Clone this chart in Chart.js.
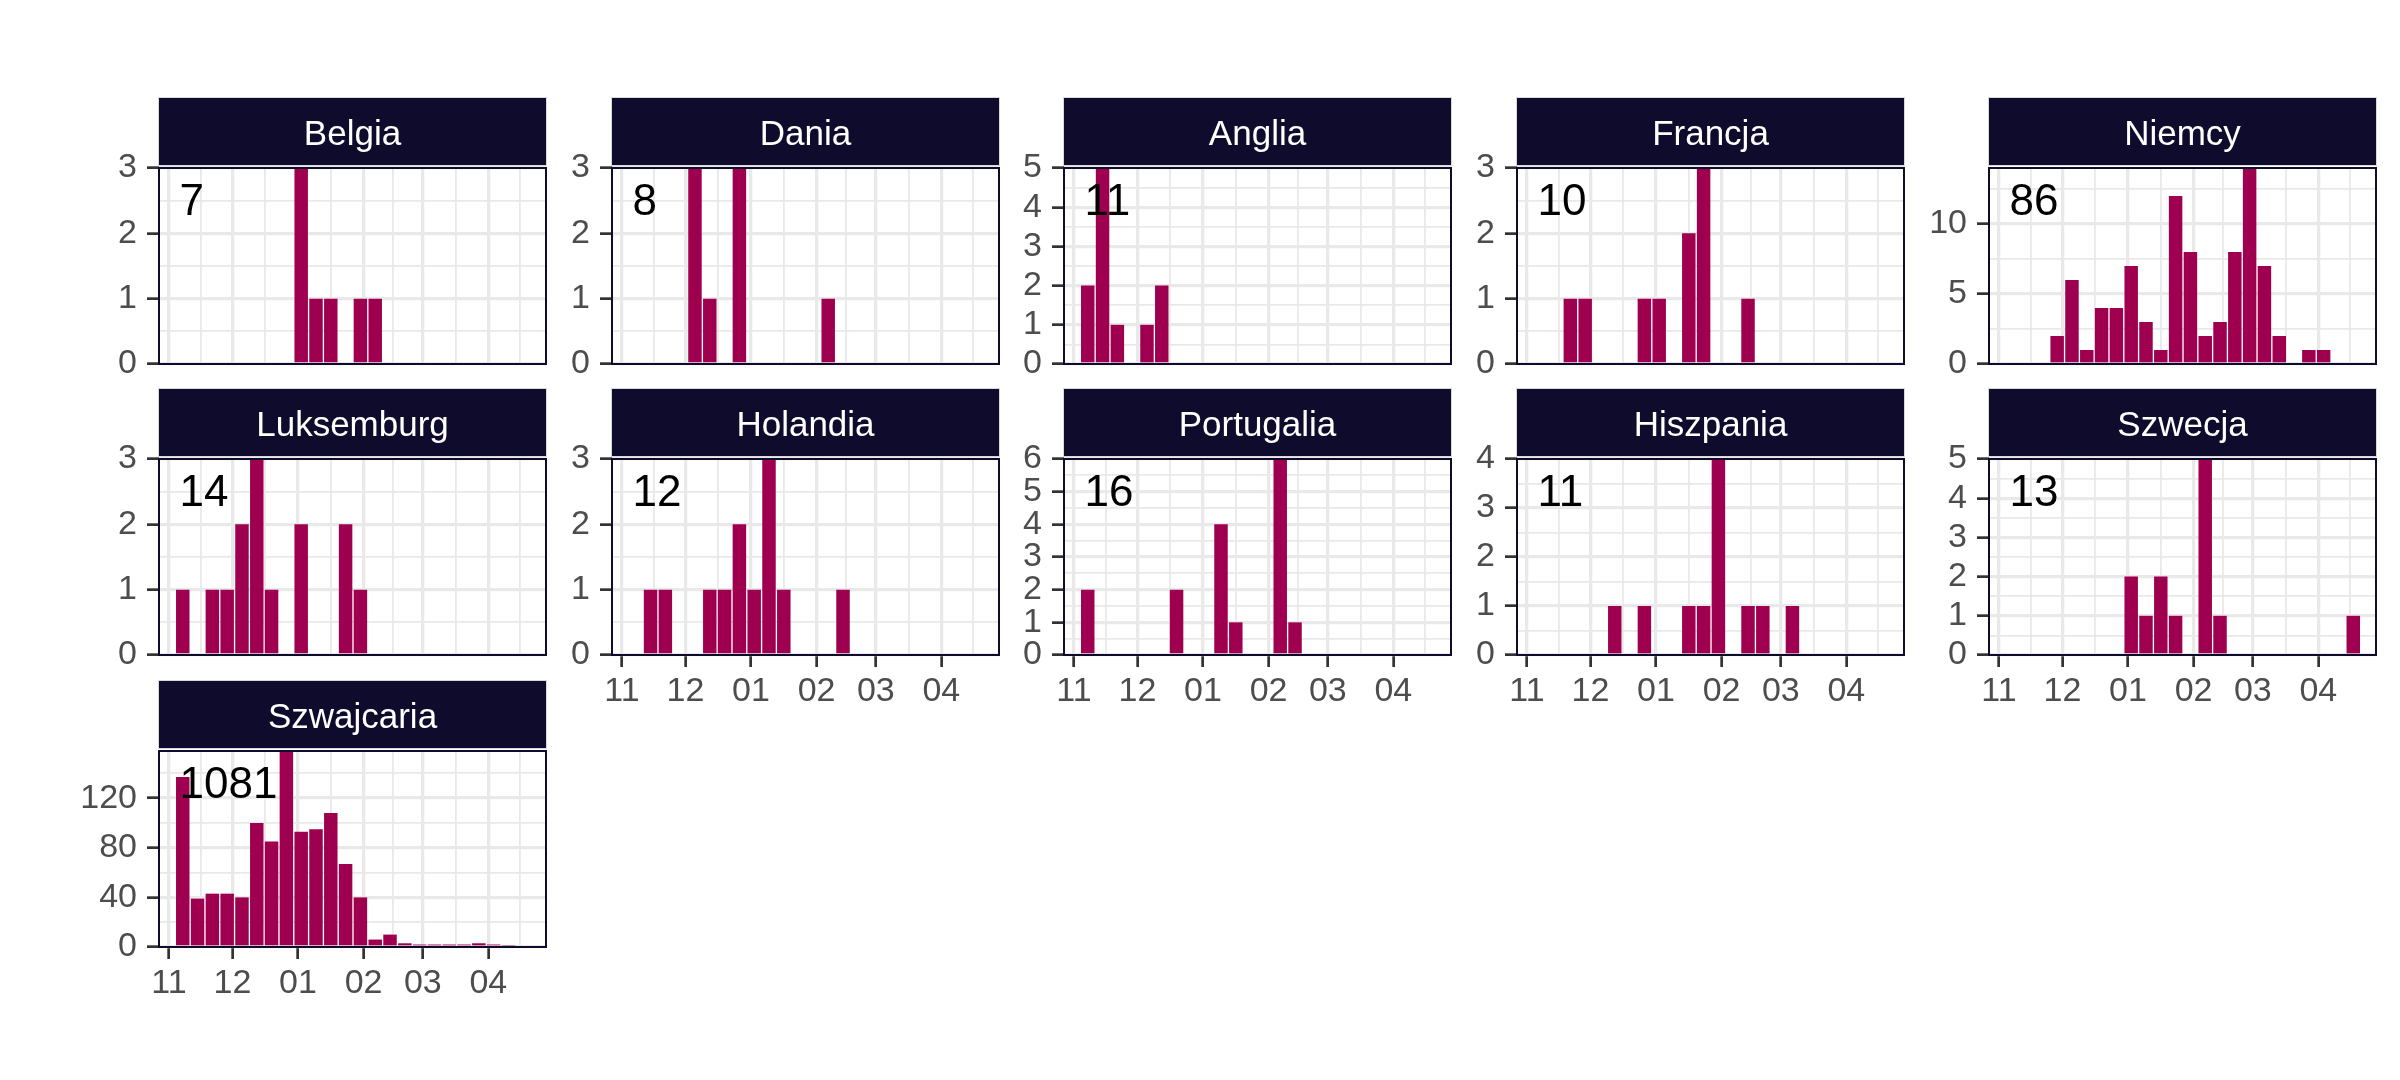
<!DOCTYPE html>
<html>
<head>
<meta charset="utf-8">
<script src="https://cdn.jsdelivr.net/npm/chart.js@4.4.1/dist/chart.umd.min.js"></script>
<style>
  body { margin: 0; background: #fff; width: 2400px; height: 1080px; position: relative; overflow: hidden; }
  canvas { position: absolute; }
</style>
</head>
<body>
<script>
// facety (kraje) w kolejnosci wyswietlania
const countries = ['Belgia', 'Dania', 'Anglia', 'Francja', 'Niemcy',
                   'Luksemburg', 'Holandia', 'Portugalia', 'Hiszpania', 'Szwecja',
                   'Szwajcaria'];
const totals = [7, 8, 11, 10, 86, 14, 12, 16, 11, 13, 1081];

// srodki tygodniowych przedzialow (dni od 1 listopada)
const binDays = [6.5, 13.5, 20.5, 27.5, 34.5, 41.5, 48.5, 55.5, 62.5, 69.5, 76.5, 83.5,
                 90.5, 97.5, 104.5, 111.5, 118.5, 125.5, 132.5, 139.5, 146.5, 153.5, 160.5, 167.5];

// liczby przypadkow na tydzien
const belgia     = [0,0,0,0,0,0,0,0,3,1,1,0,1,1,0,0,0,0,0,0,0,0,0,0];
const dania      = [0,0,0,0,3,1,0,3,0,0,0,0,0,1,0,0,0,0,0,0,0,0,0,0];
const anglia     = [2,5,1,0,1,2,0,0,0,0,0,0,0,0,0,0,0,0,0,0,0,0,0,0];
const francja    = [0,0,1,1,0,0,0,1,1,0,2,3,0,0,1,0,0,0,0,0,0,0,0,0];
const niemcy     = [0,0,0,2,6,1,4,4,7,3,1,12,8,2,3,8,14,7,2,0,1,1,0,0];
const luksemburg = [1,0,1,1,2,3,1,0,2,0,0,2,1,0,0,0,0,0,0,0,0,0,0,0];
const holandia   = [0,1,1,0,0,1,1,2,1,3,1,0,0,0,1,0,0,0,0,0,0,0,0,0];
const portugalia = [2,0,0,0,0,0,2,0,0,4,1,0,0,6,1,0,0,0,0,0,0,0,0,0];
const hiszpania  = [0,0,0,0,0,1,0,1,0,0,1,1,4,0,1,1,0,1,0,0,0,0,0,0];
const szwecja    = [0,0,0,0,0,0,0,0,2,1,2,1,0,5,1,0,0,0,0,0,0,0,0,1];
const szwajcaria = [137,39,43,43,40,100,85,158,93,95,108,67,40,6,10,3,2,2,2,2,3,2,1,0];

const series = [belgia, dania, anglia, francja, niemcy, luksemburg, holandia,
                portugalia, hiszpania, szwecja, szwajcaria];

// skale y (wolne dla kazdego panelu)
const yMax  = [3, 3, 5, 3, 14, 3, 3, 6, 4, 5, 158];
const yStep = [1, 1, 1, 1, 5, 1, 1, 1, 1, 1, 40];

// os x: miesiace
const monthTicks  = [0, 30, 61, 92, 120, 151];
const monthLabels = ['11', '12', '01', '02', '03', '04'];
const minorXTicks = [15, 45.5, 76.5, 106, 135.5, 166];
const xMin = -4.73, xMax = 178.25;

// uklad strony
const FONT = "'Liberation Sans', Arial, sans-serif";
const PL = 100, PT = 72, PR = 4, PB = 60;
const panelLefts = [159, 612, 1064, 1517, 1989];
const panelTops = [168, 459, 751];
const PW = 387, PH = 196;
const BAR = '#9e004f';
const NAVY = '#0f0b2c';
const GRID = '#e9e9e9';

const facetDecor = {
  id: 'facetDecor',
  afterDatasetsDraw(chart, args, opts) {
    const ctx = chart.ctx;
    const x = chart.scales.x.getPixelForValue(5);
    const y = chart.scales.y.getPixelForValue(opts.yMax * 0.84);
    ctx.save();
    ctx.fillStyle = '#000';
    ctx.font = '44px ' + FONT;
    ctx.textAlign = 'left';
    ctx.textBaseline = 'alphabetic';
    ctx.fillText(String(opts.total), x, y + 16);
    ctx.restore();
  },
  afterDraw(chart, args, opts) {
    const ctx = chart.ctx;
    const a = chart.chartArea;
    ctx.save();
    // pasek z nazwa kraju
    ctx.fillStyle = NAVY;
    ctx.fillRect(a.left, a.top - 70, a.right - a.left, 67);
    ctx.strokeStyle = '#d9d9d9';
    ctx.lineWidth = 1;
    ctx.strokeRect(a.left - 0.5, a.top - 70.5, a.right - a.left + 1, 68);
    ctx.fillStyle = '#fff';
    ctx.font = '35px ' + FONT;
    ctx.textAlign = 'center';
    ctx.textBaseline = 'alphabetic';
    ctx.fillText(opts.title, (a.left + a.right) / 2, a.top - 23);
    // ramka panelu
    ctx.strokeStyle = NAVY;
    ctx.lineWidth = 2;
    ctx.strokeRect(a.left, a.top, a.right - a.left, a.bottom - a.top);
    ctx.restore();
  }
};

countries.forEach((name, i) => {
  const row = Math.floor(i / 5), col = i % 5;
  const showX = row === 2 || (row === 1 && col > 0);
  const canvas = document.createElement('canvas');
  const w = PL + PW + PR, h = PT + PH + PB;
  canvas.width = w; canvas.height = h;
  canvas.style.width = w + 'px'; canvas.style.height = h + 'px';
  canvas.style.left = (panelLefts[col] - PL) + 'px';
  canvas.style.top = (panelTops[row] - PT) + 'px';
  document.body.appendChild(canvas);

  const step = yStep[i];
  const yTicks = [];
  for (let v = 0; v <= yMax[i] + 1e-9; v += step / 2) {
    yTicks.push({ value: v, isMajor: Math.abs(v / step - Math.round(v / step)) < 1e-9 });
  }
  const xTicks = monthTicks.map(v => ({ value: v, isMajor: true }))
    .concat(minorXTicks.map(v => ({ value: v, isMajor: false })))
    .sort((p, q) => p.value - q.value);

  new Chart(canvas.getContext('2d'), {
    type: 'bar',
    data: {
      datasets: [{
        data: binDays.map((d, k) => ({ x: d, y: series[i][k] })),
        backgroundColor: BAR,
        borderWidth: 0,
        barPercentage: 0.91,
        categoryPercentage: 1
      }]
    },
    plugins: [facetDecor],
    options: {
      responsive: false,
      animation: false,
      devicePixelRatio: 1,
      layout: { padding: { top: PT, right: PR, left: 0, bottom: 0 } },
      plugins: {
        legend: { display: false },
        tooltip: { enabled: false },
        facetDecor: { title: name, total: totals[i], yMax: yMax[i] }
      },
      scales: {
        x: {
          type: 'linear',
          min: xMin,
          max: xMax,
          offset: false,
          afterBuildTicks: s => { s.ticks = xTicks.map(t => ({ ...t })); },
          afterFit: s => { s.height = PB; },
          border: { display: false },
          grid: {
            offset: false,
            color: GRID,
            lineWidth: c => (c.tick && c.tick.isMajor ? 3.3 : 1.8),
            drawTicks: showX,
            tickLength: 12,
            tickWidth: 2.7,
            tickColor: c => (c.tick && c.tick.isMajor ? '#333333' : 'rgba(0,0,0,0)')
          },
          ticks: {
            display: showX,
            autoSkip: false,
            maxRotation: 0,
            padding: 4,
            color: '#4d4d4d',
            font: { family: FONT, size: 34 },
            callback: v => {
              const k = monthTicks.indexOf(v);
              return k >= 0 ? monthLabels[k] : '';
            }
          }
        },
        y: {
          min: 0,
          max: yMax[i],
          afterBuildTicks: s => { s.ticks = yTicks.map(t => ({ ...t })); },
          afterFit: s => { s.width = PL; },
          border: { display: false },
          grid: {
            color: GRID,
            lineWidth: c => (c.tick && c.tick.isMajor ? 3.3 : 1.8),
            drawTicks: true,
            tickLength: 12,
            tickWidth: 2.7,
            tickColor: c => (c.tick && c.tick.isMajor ? '#333333' : 'rgba(0,0,0,0)')
          },
          ticks: {
            autoSkip: false,
            padding: 10,
            color: '#4d4d4d',
            font: { family: FONT, size: 34 },
            callback: v => (Math.abs(v / step - Math.round(v / step)) < 1e-9 ? String(v) : '')
          }
        }
      }
    }
  });
});
</script>
</body>
</html>
